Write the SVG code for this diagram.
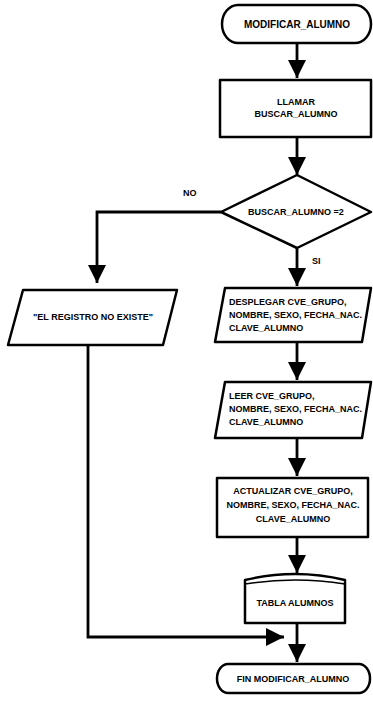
<svg xmlns="http://www.w3.org/2000/svg" width="373" height="704" viewBox="0 0 373 704">
<defs>
<style>
.s{fill:#fff;stroke:#000;stroke-width:2.5;stroke-linejoin:round}
.c{fill:none;stroke:#000;stroke-width:2.8}
text{font-family:"Liberation Sans",Arial,sans-serif;font-weight:bold;font-size:9px;fill:#000}
.m{text-anchor:middle}
.t{font-size:10px}
</style>
<marker id="ah" markerUnits="userSpaceOnUse" markerWidth="18" markerHeight="18" viewBox="0 0 18 18" refX="18" refY="9" orient="auto">
<path d="M0,0 L18,9 L0,18 Z" fill="#000"/>
</marker>
</defs>
<rect width="373" height="704" fill="#fff"/>
<g id="connectors">
<path class="c" d="M297,43 V78" marker-end="url(#ah)"/>
<path class="c" d="M297,137 V175" marker-end="url(#ah)"/>
<path class="c" d="M221,212 H97 V283" marker-end="url(#ah)"/>
<path class="c" d="M297,248 V286" marker-end="url(#ah)"/>
<path class="c" d="M297,342 V380" marker-end="url(#ah)"/>
<path class="c" d="M297,438 V476" marker-end="url(#ah)"/>
<path class="c" d="M297,537 V573" marker-end="url(#ah)"/>
<path class="c" d="M297,623 V662" marker-end="url(#ah)"/>
<path class="c" d="M88,345 V637 H284" marker-end="url(#ah)"/>
<text x="183" y="196">NO</text>
<text x="312" y="264">SI</text>
</g>
<g id="inicio">
<rect class="s" x="222" y="5" width="149" height="38" rx="16" ry="19"/>
<text class="m t" x="297" y="28">MODIFICAR_ALUMNO</text>
</g>
<g id="llamar">
<rect class="s" x="220" y="80" width="151" height="57"/>
<text class="m" x="296" y="105">LLAMAR</text>
<text class="m" x="296" y="117">BUSCAR_ALUMNO</text>
</g>
<g id="decision">
<polygon class="s" points="297,175 371,212 297,248 221,212"/>
<text class="m" x="296" y="215">BUSCAR_ALUMNO =2</text>
</g>
<g id="no_existe">
<polygon class="s" points="23,290 177,290 163,345 8,345"/>
<text class="m" x="93" y="320">"EL REGISTRO NO EXISTE"</text>
</g>
<g id="desplegar">
<polygon class="s" points="225,288 371,288 362,342 215,342"/>
<text x="229" y="305">DESPLEGAR CVE_GRUPO,</text>
<text x="229" y="318">NOMBRE, SEXO, FECHA_NAC.</text>
<text x="229" y="331">CLAVE_ALUMNO</text>
</g>
<g id="leer">
<polygon class="s" points="225,382 371,382 362,438 215,438"/>
<text x="229" y="399">LEER CVE_GRUPO,</text>
<text x="229" y="412">NOMBRE, SEXO, FECHA_NAC.</text>
<text x="229" y="425">CLAVE_ALUMNO</text>
</g>
<g id="actualizar">
<rect class="s" x="217" y="478" width="151" height="59"/>
<text class="m" x="293" y="494">ACTUALIZAR CVE_GRUPO,</text>
<text class="m" x="293" y="508">NOMBRE, SEXO, FECHA_NAC.</text>
<text class="m" x="293" y="522">CLAVE_ALUMNO</text>
</g>
<g id="tabla">
<path class="s" d="M245,580 Q295,568 345,580 V623 H245 Z"/>
<path class="c" style="stroke-width:1.5" d="M245,584 Q295,576 345,584"/>
<text class="m" x="295" y="606">TABLA ALUMNOS</text>
</g>
<g id="fin">
<rect class="s" x="217" y="664" width="153" height="29" rx="11" ry="14.5"/>
<text class="m" x="293" y="682">FIN MODIFICAR_ALUMNO</text>
</g>
</svg>
